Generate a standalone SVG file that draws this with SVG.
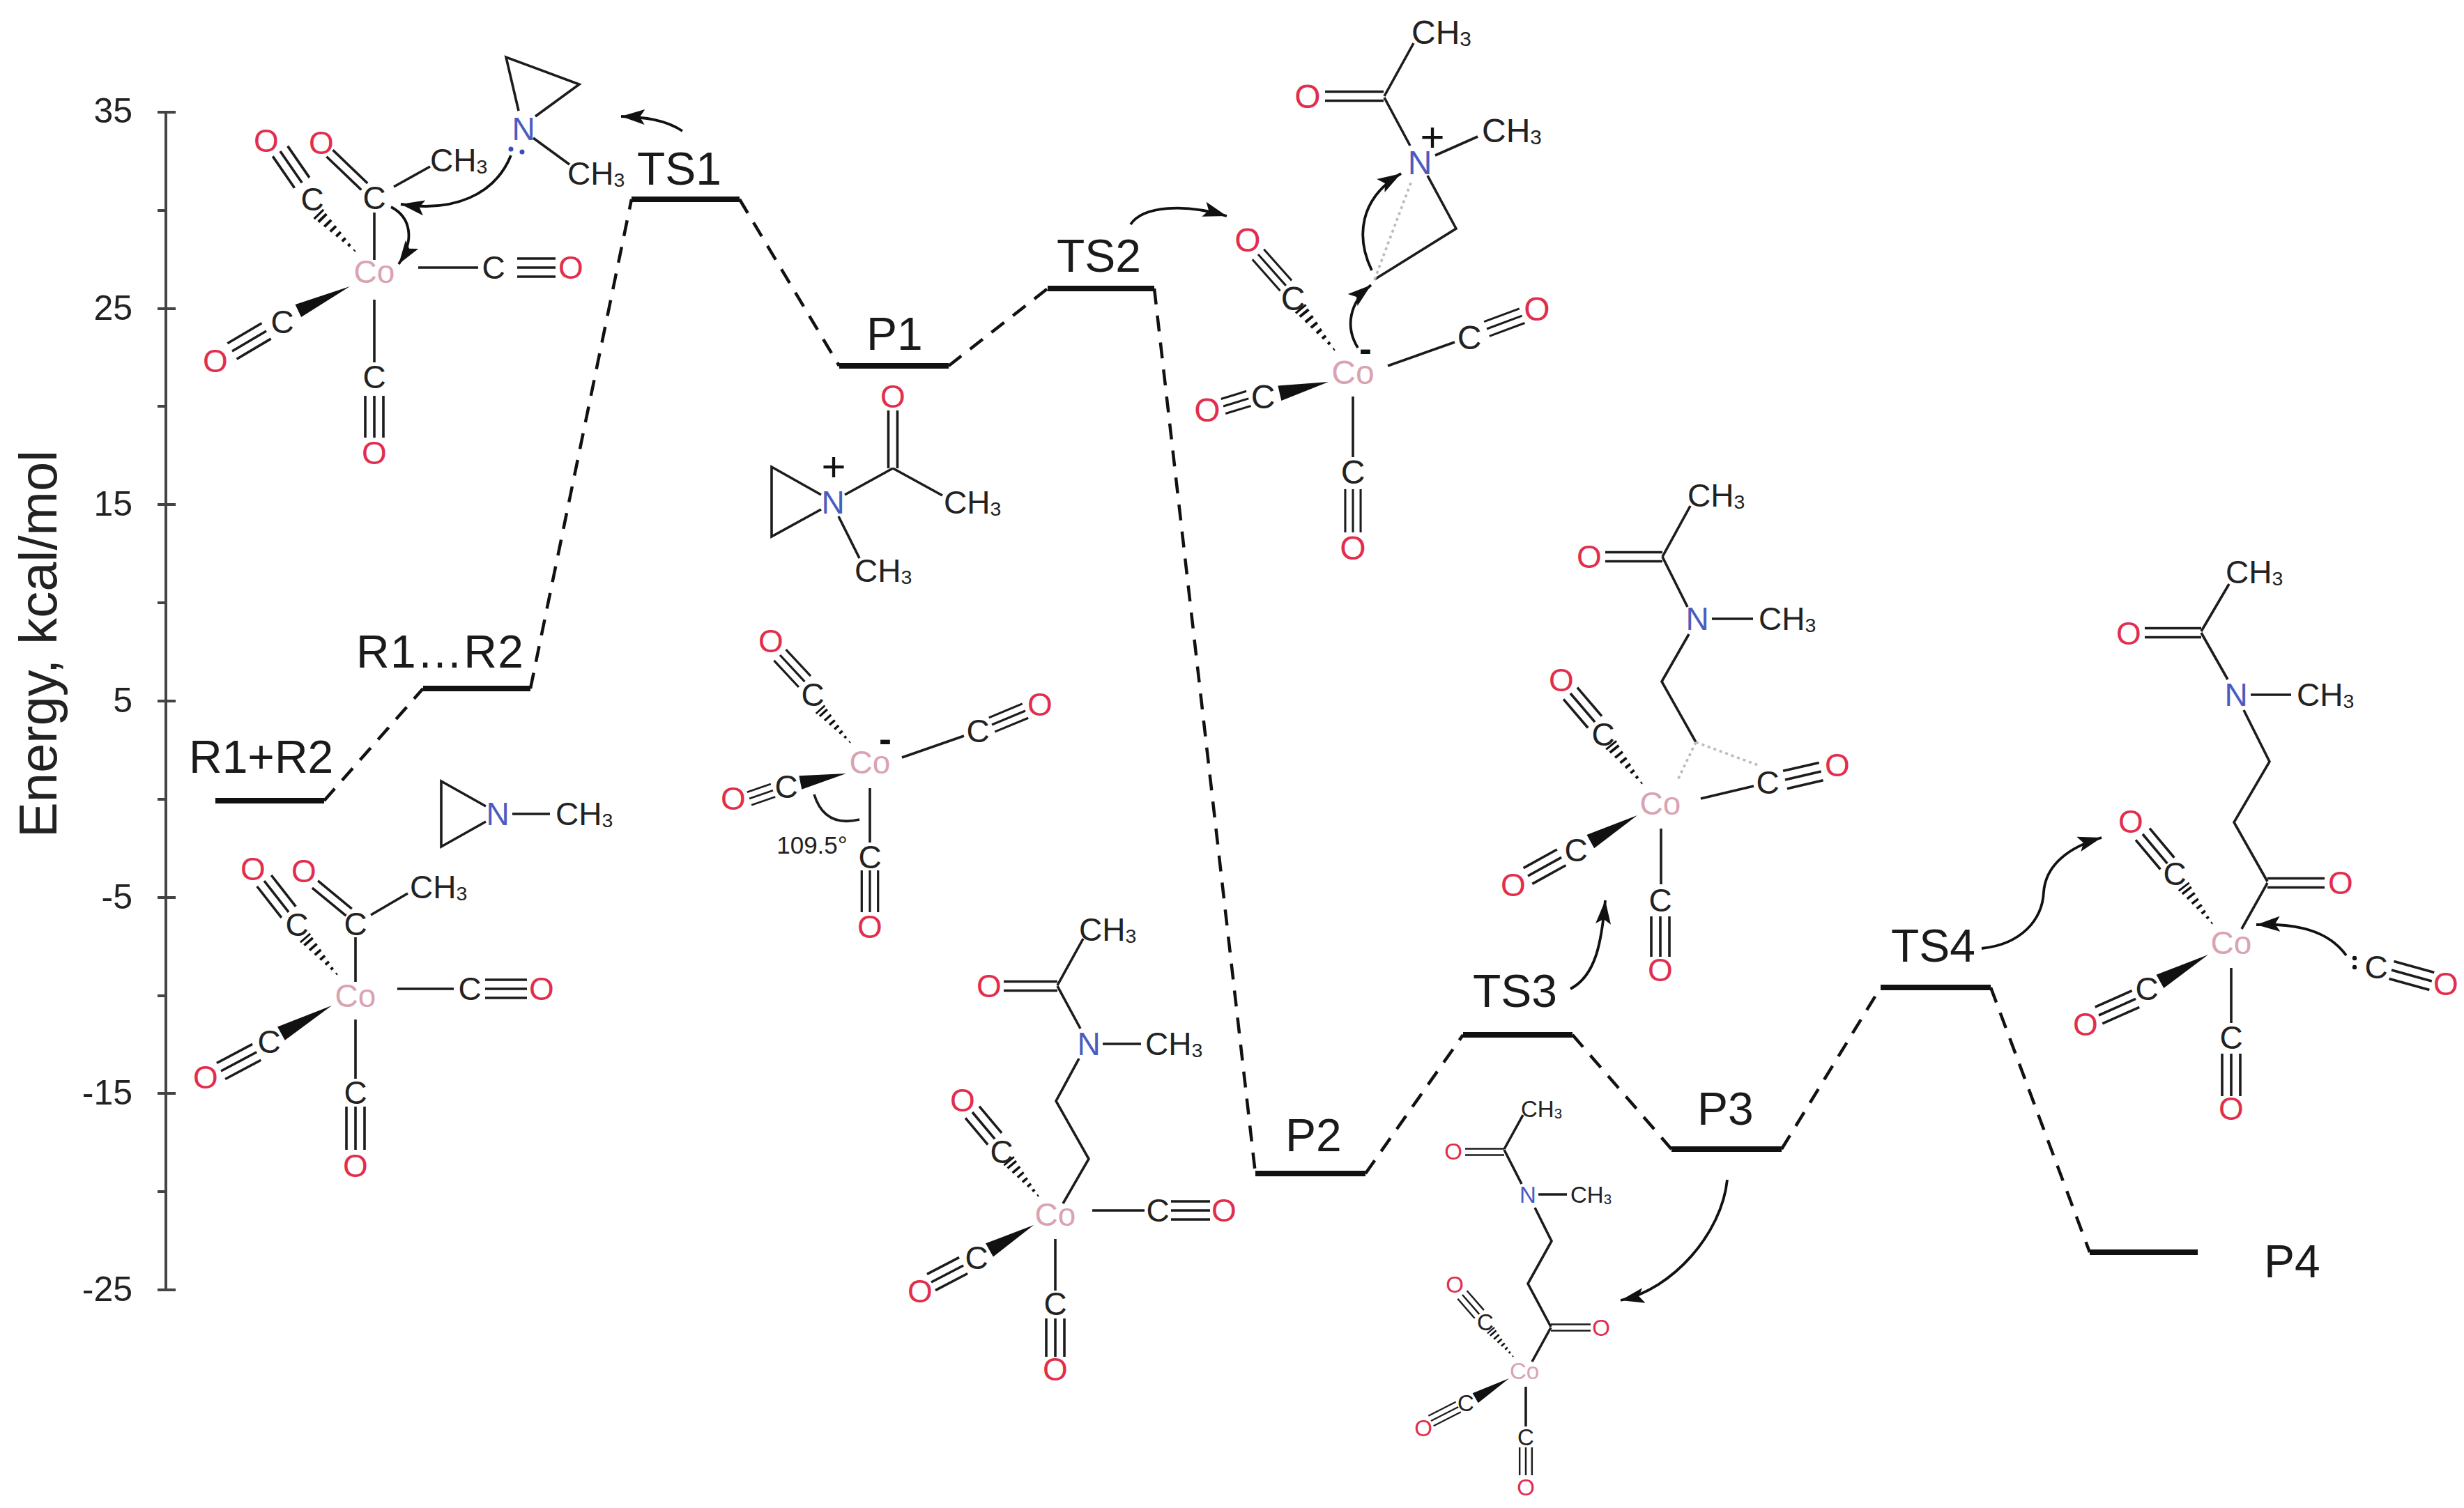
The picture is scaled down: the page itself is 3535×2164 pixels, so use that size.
<svg xmlns="http://www.w3.org/2000/svg" xmlns:xlink="http://www.w3.org/1999/xlink" width="3535" height="2164" viewBox="0 0 3535 2164">
<style>
text{font-family:"Liberation Sans",Arial,sans-serif;fill:#222}
.b{stroke:#1c1c1c;stroke-width:3.6;fill:none}
.m text{text-anchor:middle;dominant-baseline:central}
.m text.k{text-anchor:start}
.m text.o{fill:#e22d4d}
.m text.co{fill:#d9a3b1}
.m text.n{fill:#4a5cc0}
.m text.p{fill:#111;font-size:60px}
.m text.mi{fill:#111;font-weight:bold;font-size:54px}
.s{font-size:.62em}
.lv{stroke:#111;stroke-width:8;fill:none}
.lb{font-size:66px;fill:#1a1a1a}
.tk{font-size:50px;text-anchor:end;fill:#222}
.ax{stroke:#444;stroke-width:4;fill:none}
.da{stroke:#111;stroke-width:4.5;stroke-dasharray:23 16;fill:none}
.ar{stroke:#111;stroke-width:3.8;fill:none;marker-end:url(#ah)}
.dot{stroke:#bbb;stroke-width:3.6;stroke-dasharray:4 5;fill:none}
.f{fill:#111}
</style>
<defs>
<marker id="ah" markerUnits="userSpaceOnUse" markerWidth="36" markerHeight="26" refX="34" refY="13" orient="auto"><path d="M0,2L34,13L0,24L7,13z" fill="#111"/></marker>
<path id="t3" class="b" d="M0-13H1M0 0H1M0 13H1"/>
<path id="d2" class="b" d="M0-6.5H1M0 6.5H1"/>
<polygon id="we" class="f" points="0,0 1,-1 1,1"/>
<path id="ha" class="f" d="M.02-.1h.05v.2h-.05zM.16-.22h.05v.44h-.05zM.30-.34h.05v.68h-.05zM.44-.46h.05v.92h-.05zM.58-.58h.05v1.16h-.05zM.72-.7h.05v1.4h-.05zM.86-.82h.05v1.64h-.05zM.96-.95h.04v1.9h-.04z"/>
</defs>
<rect width="3535" height="2164" fill="#fff"/>

<g id="axis">
<path class="ax" d="M238,159V1853M226,161H252M226,443H252M226,724H252M226,1006H252M226,1288H252M226,1569H252M226,1851H252M226,302H238M226,583H238M226,865H238M226,1147H238M226,1429H238M226,1710H238"/>
<text class="tk" x="190" y="176">35</text>
<text class="tk" x="190" y="459">25</text>
<text class="tk" x="190" y="740">15</text>
<text class="tk" x="190" y="1022">5</text>
<text class="tk" x="190" y="1304">-5</text>
<text class="tk" x="190" y="1585">-15</text>
<text class="tk" x="190" y="1867">-25</text>
<text x="81" y="924" font-size="76" text-anchor="middle" transform="rotate(-90 81 924)" fill="#1a1a1a">Energy, kcal/mol</text>
</g>

<g id="connectors">
<path class="da" d="M465,1149L607,988"/>
<path class="da" d="M761,988L906,286"/>
<path class="da" d="M1061,286L1204,525"/>
<path class="da" d="M1361,525L1503,414"/>
<path class="da" d="M1656,414L1801,1684"/>
<path class="da" d="M1959,1684L2099,1485"/>
<path class="da" d="M2256,1485L2398,1649"/>
<path class="da" d="M2556,1649L2698,1417"/>
<path class="da" d="M2856,1417L2998,1797"/>
<path class="ar" d="M979,188C955,172 925,168 891,167"/>
<path class="ar" d="M733,223C710,280 650,305 575,293"/>
<path class="ar" d="M561,297C590,312 595,345 572,379"/>
<path class="ar" d="M1622,322C1640,295 1700,292 1760,310"/>
<path class="ar" d="M1968,388C1945,340 1950,285 2010,249"/>
<path class="ar" d="M1948,499C1930,470 1935,435 1967,409"/>
<path class="ar" d="M2253,1419C2290,1400 2298,1350 2303,1292"/>
<path class="ar" d="M2478,1693C2470,1770 2400,1850 2325,1866"/>
<path class="ar" d="M2843,1361C2900,1355 2930,1320 2932,1280C2935,1240 2970,1215 3015,1202"/>
<path class="ar" d="M3366,1371C3340,1335 3295,1325 3237,1327"/>
</g>

<g id="level-R1R2"><path class="lv" d="M309,1149H465"/><text class="lb" x="271" y="1109">R1+R2</text></g>
<g id="level-R1-R2"><path class="lv" d="M607,988H761"/><text class="lb" x="511" y="958" textLength="240">R1…R2</text></g>
<g id="level-TS1"><path class="lv" d="M906,286H1061"/><text class="lb" x="914" y="265">TS1</text></g>
<g id="level-P1"><path class="lv" d="M1204,525H1361"/><text class="lb" x="1243" y="502">P1</text></g>
<g id="level-TS2"><path class="lv" d="M1503,414H1656"/><text class="lb" x="1516" y="390">TS2</text></g>
<g id="level-P2"><path class="lv" d="M1801,1684H1959"/><text class="lb" x="1844" y="1652">P2</text></g>
<g id="level-TS3"><path class="lv" d="M2099,1485H2256"/><text class="lb" x="2113" y="1445">TS3</text></g>
<g id="level-P3"><path class="lv" d="M2398,1649H2556"/><text class="lb" x="2435" y="1614">P3</text></g>
<g id="level-TS4"><path class="lv" d="M2698,1417H2856"/><text class="lb" x="2713" y="1380">TS4</text></g>
<g id="level-P4"><path class="lv" d="M2998,1797H3153"/><text class="lb" x="3248" y="1833">P4</text></g>

<g id="mol-ts1" class="m" font-size="46">
<path class="b" d="M565,268L617,239M537,305L537,373M600,384L686,384M537,430L537,520M744,159L726,82L831,121L768,167M765,198L817,236"/>
<use href="#t3" transform="translate(402 217) rotate(55.4) scale(55 1)"/>
<use href="#t3" transform="translate(742 384) scale(55 1)"/>
<use href="#t3" transform="translate(333 504) rotate(-30.6) scale(57 1)"/>
<use href="#t3" transform="translate(537 568) rotate(90) scale(60 1)"/>
<use href="#d2" transform="translate(473 220) rotate(43.8) scale(69 1)"/>
<use href="#ha" transform="translate(511 362) rotate(225.5) scale(78 10)"/>
<use href="#we" transform="translate(502 411) rotate(154.7) scale(82 10)"/>
<text class="o" x="382" y="202">O</text><text class="o" x="461" y="205">O</text>
<text x="448" y="286">C</text><text x="537" y="284">C</text>
<text class="k" x="617" y="230">CH<tspan class="s" dy="9">3</tspan></text>
<text class="co" x="537" y="390">Co</text>
<text x="708" y="384">C</text><text class="o" x="819" y="384">O</text>
<text x="405" y="462">C</text><text class="o" x="309" y="518">O</text>
<text x="537" y="541">C</text><text class="o" x="537" y="650">O</text>
<text class="n" x="751" y="185">N</text>
<text class="k" x="814" y="249">CH<tspan class="s" dy="9">3</tspan></text>
<circle cx="733" cy="214" r="3.5" fill="#3a4cc0"/><circle cx="749" cy="218" r="3.5" fill="#3a4cc0"/>
</g>

<g id="mol-ts2" class="m" font-size="48">
<path class="b" d="M1986,138L2028,62M1986,140L2023,209M2059,223L2120,196M2048,252L2089,328L1972,401M1991,525L2087,491M1941,569L1941,656"/>
<path class="dot" d="M1972,401L2025,260"/>
<use href="#d2" transform="translate(1901 138) scale(84 1)"/>
<use href="#t3" transform="translate(1805 365) rotate(48.4) scale(60 .85)"/>
<use href="#t3" transform="translate(1755 583) rotate(-17) scale(38 .85)"/>
<use href="#t3" transform="translate(2133 472) rotate(-20.4) scale(54 .85)"/>
<use href="#t3" transform="translate(1941 702) rotate(90) scale(62 .85)"/>
<use href="#ha" transform="translate(1916 504) rotate(230.6) scale(80 10)"/>
<use href="#we" transform="translate(1906 548) rotate(167) scale(72 11)"/>
<text class="k" x="2025" y="46">CH<tspan class="s" dy="9">3</tspan></text>
<text class="o" x="1876" y="138">O</text>
<text class="n" x="2037" y="233">N</text>
<text class="p" x="2055" y="196">+</text>
<text class="k" x="2126" y="187">CH<tspan class="s" dy="9">3</tspan></text>
<text class="mi" x="1959" y="500">-</text>
<text class="co" x="1941" y="534">Co</text>
<text x="1855" y="428">C</text><text class="o" x="1790" y="344">O</text>
<text x="1812" y="569">C</text><text class="o" x="1732" y="588">O</text>
<text x="2108" y="484">C</text><text class="o" x="2205" y="443">O</text>
<text x="1941" y="677">C</text><text class="o" x="1941" y="786">O</text>
</g>

<g id="mol-r1" class="m" font-size="46">
<path class="b" d="M697,1157L633,1121L633,1215L697,1179M735,1168L789,1168"/>
<text class="n" x="714" y="1168">N</text>
<text class="k" x="797" y="1168">CH<tspan class="s" dy="9">3</tspan></text>
</g>

<g id="mol-r2" class="m" font-size="46">
<path class="b" d="M532,1313L585,1282M510,1345L510,1409M570,1419L651,1419M510,1463L510,1548"/>
<use href="#d2" transform="translate(452 1269) rotate(39.5) scale(63 1)"/>
<use href="#t3" transform="translate(379 1264) rotate(52) scale(57 1)"/>
<use href="#t3" transform="translate(317 1537) rotate(-28) scale(58 1)"/>
<use href="#t3" transform="translate(696 1419) scale(60 1)"/>
<use href="#t3" transform="translate(510 1588) rotate(90) scale(62 1)"/>
<use href="#ha" transform="translate(485 1400) rotate(229) scale(73 10)"/>
<use href="#we" transform="translate(476 1443) rotate(151) scale(83 11)"/>
<text class="o" x="363" y="1247">O</text><text class="o" x="436" y="1250">O</text>
<text x="426" y="1327">C</text><text x="510" y="1326">C</text>
<text class="k" x="588" y="1273">CH<tspan class="s" dy="9">3</tspan></text>
<text class="co" x="510" y="1429">Co</text>
<text x="386" y="1495">C</text><text class="o" x="295" y="1546">O</text>
<text x="674" y="1419">C</text><text class="o" x="777" y="1419">O</text>
<text x="510" y="1568">C</text><text class="o" x="510" y="1673">O</text>
</g>

<g id="mol-p1a" class="m" font-size="46">
<path class="b" d="M1281,672L1352,711M1281,672L1212,710M1178,710L1107,670L1107,770L1178,731M1203,741L1233,801"/>
<use href="#d2" transform="translate(1281 589) rotate(90) scale(83 1)"/>
<text class="o" x="1281" y="569">O</text>
<text class="k" x="1354" y="721">CH<tspan class="s" dy="9">3</tspan></text>
<text class="n" x="1195" y="721">N</text>
<text class="p" x="1196" y="669">+</text>
<text class="k" x="1226" y="819">CH<tspan class="s" dy="9">3</tspan></text>
</g>

<g id="mol-p1b" class="m" font-size="46">
<path class="b" d="M1294,1087L1383,1056M1248,1131L1248,1209"/>
<path class="b" d="M1168,1140Q1183,1188 1233,1176"/>
<use href="#t3" transform="translate(1119 940) rotate(47) scale(52 .9)"/>
<use href="#t3" transform="translate(1075 1146) rotate(-19) scale(36 .75)"/>
<use href="#t3" transform="translate(1423 1040) rotate(-22.6) scale(52 .85)"/>
<use href="#t3" transform="translate(1248 1249) rotate(90) scale(60 .9)"/>
<use href="#ha" transform="translate(1221 1067) rotate(228) scale(67 9)"/>
<use href="#we" transform="translate(1214 1110) rotate(168.8) scale(67 10)"/>
<text class="co" x="1248" y="1094">Co</text>
<text class="mi" x="1270" y="1060">-</text>
<text class="o" x="1106" y="920">O</text><text x="1166" y="997">C</text>
<text x="1128" y="1129">C</text><text class="o" x="1052" y="1146">O</text>
<text x="1403" y="1049">C</text><text class="o" x="1492" y="1011">O</text>
<text x="1248" y="1230">C</text><text class="o" x="1248" y="1330">O</text>
<text x="1165" y="1212" style="font-size:35px">109.5°</text>
</g>

<g id="mol-p2" class="m" font-size="46">
<path class="b" d="M1517,1414L1554,1347M1517,1415L1550,1476M1582,1498L1637,1498M1548,1519L1515,1580L1562,1663L1525,1727M1567,1737L1642,1737M1514,1778L1514,1852"/>
<use href="#d2" transform="translate(1440 1415) scale(77 1)"/>
<use href="#t3" transform="translate(1395 1596) rotate(50) scale(50 1)"/>
<use href="#t3" transform="translate(1336 1840) rotate(-27.5) scale(52 1)"/>
<use href="#t3" transform="translate(1680 1737) scale(56 1)"/>
<use href="#t3" transform="translate(1514 1892) rotate(90) scale(55 1)"/>
<use href="#ha" transform="translate(1491 1718) rotate(230) scale(69 10)"/>
<use href="#we" transform="translate(1483 1758) rotate(150.5) scale(73 11)"/>
<text class="k" x="1548" y="1334">CH<tspan class="s" dy="9">3</tspan></text>
<text class="o" x="1419" y="1415">O</text>
<text class="n" x="1562" y="1498">N</text>
<text class="k" x="1643" y="1498">CH<tspan class="s" dy="9">3</tspan></text>
<text class="co" x="1514" y="1743">Co</text>
<text class="o" x="1381" y="1579">O</text><text x="1437" y="1653">C</text>
<text x="1401" y="1805">C</text><text class="o" x="1320" y="1853">O</text>
<text x="1661" y="1737">C</text><text class="o" x="1756" y="1737">O</text>
<text x="1514" y="1871">C</text><text class="o" x="1514" y="1965">O</text>
</g>

<g id="mol-ts3" class="m" font-size="46">
<path class="b" d="M2385,799L2425,726M2385,799L2421,871M2456,888L2515,888M2423,910L2384,978L2433,1065M2440,1146L2516,1128M2383,1189L2383,1269"/>
<path class="dot" d="M2433,1065L2406,1121M2433,1065L2525,1099"/>
<use href="#d2" transform="translate(2303 799) scale(82 1)"/>
<use href="#t3" transform="translate(2253 995) rotate(49.5) scale(54 1)"/>
<use href="#t3" transform="translate(2192 1257) rotate(-29) scale(55 1)"/>
<use href="#t3" transform="translate(2561 1119) rotate(-13) scale(53 1)"/>
<use href="#t3" transform="translate(2382 1315) rotate(90) scale(58 1)"/>
<use href="#ha" transform="translate(2357 1126) rotate(231.3) scale(74 10)"/>
<use href="#we" transform="translate(2349 1170) rotate(150.8) scale(77 11)"/>
<text class="k" x="2421" y="711">CH<tspan class="s" dy="9">3</tspan></text>
<text class="o" x="2280" y="799">O</text>
<text class="n" x="2435" y="888">N</text>
<text class="k" x="2523" y="888">CH<tspan class="s" dy="9">3</tspan></text>
<text class="co" x="2382" y="1153">Co</text>
<text class="o" x="2240" y="976">O</text><text x="2300" y="1054">C</text>
<text x="2261" y="1220">C</text><text class="o" x="2171" y="1270">O</text>
<text x="2536" y="1123">C</text><text class="o" x="2636" y="1098">O</text>
<text x="2382" y="1292">C</text><text class="o" x="2382" y="1392">O</text>
</g>

<g id="mol-p3" class="m" font-size="33">
<path class="b" d="M2158,1649L2185,1600M2158,1650L2183,1699M2207,1714L2248,1714M2202,1733L2226,1781L2192,1842L2225,1904M2225,1905L2198,1954M2189,1990L2189,2047"/>
<use href="#d2" transform="translate(2102 1653) scale(56 .7)"/>
<use href="#d2" transform="translate(2225 1905) scale(57 .7)"/>
<use href="#t3" transform="translate(2098 1858) rotate(49) scale(37 .68)"/>
<use href="#t3" transform="translate(2053 2039) rotate(-27) scale(44 .62)"/>
<use href="#t3" transform="translate(2189 2077) rotate(90) scale(40 .68)"/>
<use href="#ha" transform="translate(2172 1948) rotate(229.6) scale(52 7)"/>
<use href="#we" transform="translate(2165 1978) rotate(149.7) scale(56 8)"/>
<text class="k" x="2182" y="1591">CH<tspan class="s" dy="6">3</tspan></text>
<text class="o" x="2085" y="1652">O</text>
<text class="n" x="2192" y="1714">N</text>
<text class="k" x="2253" y="1714">CH<tspan class="s" dy="6">3</tspan></text>
<text class="o" x="2297" y="1905">O</text>
<text class="co" x="2187" y="1967">Co</text>
<text class="o" x="2087" y="1843">O</text><text x="2131" y="1897">C</text>
<text x="2103" y="2013">C</text><text class="o" x="2042" y="2049">O</text>
<text x="2189" y="2062">C</text><text class="o" x="2189" y="2134">O</text>
</g>

<g id="mol-ts4" class="m" font-size="46">
<path class="b" d="M3158,906L3198,838M3158,908L3196,975M3229,997L3287,997M3219,1019L3256,1093L3205,1180L3253,1265M3253,1267L3216,1333M3201,1389L3201,1468"/>
<use href="#d2" transform="translate(3077 908) scale(81 1)"/>
<use href="#d2" transform="translate(3253 1267) scale(82 1)"/>
<use href="#t3" transform="translate(3074 1197) rotate(50) scale(55 1)"/>
<use href="#t3" transform="translate(3011 1457) rotate(-24) scale(58 1)"/>
<use href="#t3" transform="translate(3201 1512) rotate(90) scale(61 1)"/>
<use href="#t3" transform="translate(3431 1392) rotate(15.5) scale(60 1)"/>
<use href="#ha" transform="translate(3175 1327) rotate(232.5) scale(70 10)"/>
<use href="#we" transform="translate(3168 1370) rotate(151) scale(79 11)"/>
<text class="k" x="3193" y="821">CH<tspan class="s" dy="9">3</tspan></text>
<text class="o" x="3054" y="909">O</text>
<text class="n" x="3208" y="997">N</text>
<text class="k" x="3295" y="997">CH<tspan class="s" dy="9">3</tspan></text>
<text class="o" x="3358" y="1267">O</text>
<text class="co" x="3201" y="1353">Co</text>
<text class="o" x="3057" y="1179">O</text><text x="3120" y="1254">C</text>
<text x="3080" y="1419">C</text><text class="o" x="2992" y="1470">O</text>
<text x="3201" y="1489">C</text><text class="o" x="3201" y="1591">O</text>
<circle cx="3378" cy="1375" r="3.2" fill="#111"/><circle cx="3378" cy="1388" r="3.2" fill="#111"/>
<text x="3409" y="1388">C</text><text class="o" x="3509" y="1412">O</text>
</g>
</svg>
